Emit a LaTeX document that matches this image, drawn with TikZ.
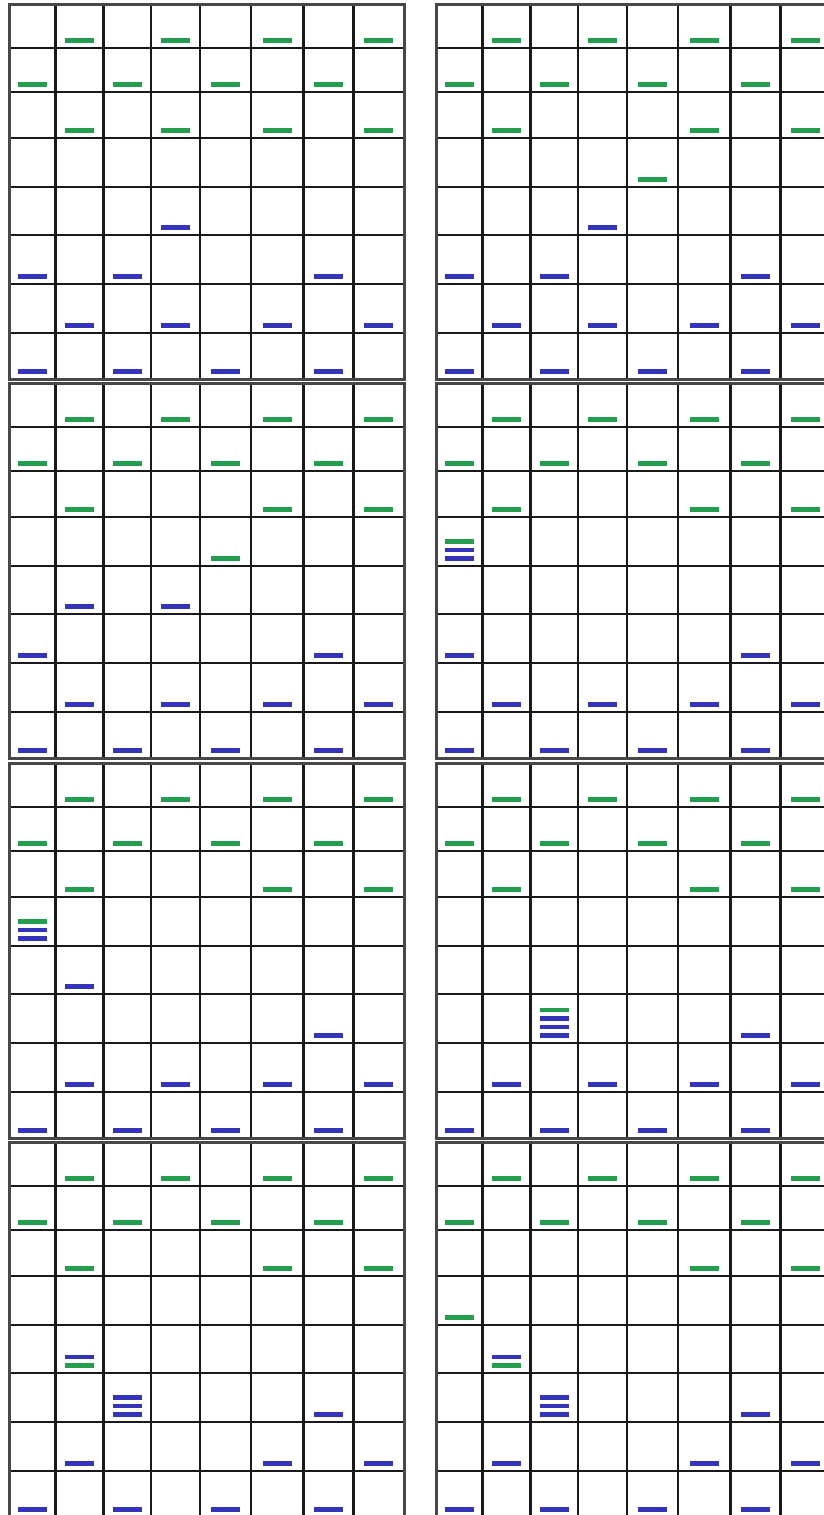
\documentclass[tikz,border=0pt]{standalone}
\definecolor{pg}{RGB}{34,158,78}
\definecolor{pb}{RGB}{52,52,185}
\tikzset{
  gridline/.style={line width=2.2pt, draw=black!90},
  boardborder/.style={line width=3pt, draw=black!72},
  piece/.style={line width=4.4pt}
}
\def\colx{{0,46.5,94.5,142,191,242,294.5,344.5,395}}
\def\rowy{{0,44,88,134,183,231,280,329,375}}
\newcommand\drawboard[2]{%
  \foreach \i in {1,...,7}{\pgfmathsetmacro\xx{#1+\colx[\i]}\draw[gridline] (\xx,#2) -- (\xx,#2+375);}
  \foreach \j in {1,...,7}{\pgfmathsetmacro\yy{#2+\rowy[\j]}\draw[gridline] (#1,\yy) -- (#1+395,\yy);}
  \draw[boardborder] (#1,#2) rectangle (#1+395,#2+375);
}
\newcommand\chk[6]{%
  \pgfmathsetmacro\cx{#1+(\colx[#3-1]+\colx[#3])/2}%
  \pgfmathsetmacro\cy{#2+\rowy[#4]-7.5-8.5*#6}%
  \draw[piece,#5] (\cx-14.5,\cy) -- (\cx+14.5,\cy);
}
\newcommand\pieces[3]{\foreach \c/\r/\k/\l in {#3}{\chk{#1}{#2}{\c}{\r}{\k}{\l}}}
\newcommand\stdpieces[2]{\pieces{#1}{#2}{2/1/pg/0,4/1/pg/0,6/1/pg/0,8/1/pg/0,1/2/pg/0,3/2/pg/0,5/2/pg/0,7/2/pg/0,1/8/pb/0,3/8/pb/0,5/8/pb/0,7/8/pb/0}}
\begin{document}
\begin{tikzpicture}[x=1pt,y=-1pt]
\useasboundingbox (0,0) rectangle (824,1515);
\fill[white] (0,0) rectangle (824,1515);
\clip (0,0) rectangle (824,1515);
% board 1
\drawboard{9}{4}
\stdpieces{9}{4}
\pieces{9}{4}{2/3/pg/0,4/3/pg/0,6/3/pg/0,8/3/pg/0,4/5/pb/0,1/6/pb/0,3/6/pb/0,7/6/pb/0,2/7/pb/0,4/7/pb/0,6/7/pb/0,8/7/pb/0}
% board 2
\drawboard{436}{4}
\stdpieces{436}{4}
\pieces{436}{4}{2/3/pg/0,6/3/pg/0,8/3/pg/0,5/4/pg/0,4/5/pb/0,1/6/pb/0,3/6/pb/0,7/6/pb/0,2/7/pb/0,4/7/pb/0,6/7/pb/0,8/7/pb/0}
% board 3
\drawboard{9}{383}
\stdpieces{9}{383}
\pieces{9}{383}{2/3/pg/0,6/3/pg/0,8/3/pg/0,5/4/pg/0,2/5/pb/0,4/5/pb/0,1/6/pb/0,7/6/pb/0,2/7/pb/0,4/7/pb/0,6/7/pb/0,8/7/pb/0}
% board 4
\drawboard{436}{383}
\stdpieces{436}{383}
\pieces{436}{383}{2/3/pg/0,6/3/pg/0,8/3/pg/0,1/4/pb/0,1/4/pb/1,1/4/pg/2,1/6/pb/0,7/6/pb/0,2/7/pb/0,4/7/pb/0,6/7/pb/0,8/7/pb/0}
% board 5
\drawboard{9}{763}
\stdpieces{9}{763}
\pieces{9}{763}{2/3/pg/0,6/3/pg/0,8/3/pg/0,1/4/pb/0,1/4/pb/1,1/4/pg/2,2/5/pb/0,7/6/pb/0,2/7/pb/0,4/7/pb/0,6/7/pb/0,8/7/pb/0}
% board 6
\drawboard{436}{763}
\stdpieces{436}{763}
\pieces{436}{763}{2/3/pg/0,6/3/pg/0,8/3/pg/0,3/6/pb/0,3/6/pb/1,3/6/pb/2,3/6/pg/3,7/6/pb/0,2/7/pb/0,4/7/pb/0,6/7/pb/0,8/7/pb/0}
% board 7
\drawboard{9}{1142}
\stdpieces{9}{1142}
\pieces{9}{1142}{2/3/pg/0,6/3/pg/0,8/3/pg/0,2/5/pg/0,2/5/pb/1,3/6/pb/0,3/6/pb/1,3/6/pb/2,7/6/pb/0,2/7/pb/0,6/7/pb/0,8/7/pb/0}
% board 8
\drawboard{436}{1142}
\stdpieces{436}{1142}
\pieces{436}{1142}{6/3/pg/0,8/3/pg/0,1/4/pg/0,2/5/pg/0,2/5/pb/1,3/6/pb/0,3/6/pb/1,3/6/pb/2,7/6/pb/0,2/7/pb/0,6/7/pb/0,8/7/pb/0}
\end{tikzpicture}
\end{document}
